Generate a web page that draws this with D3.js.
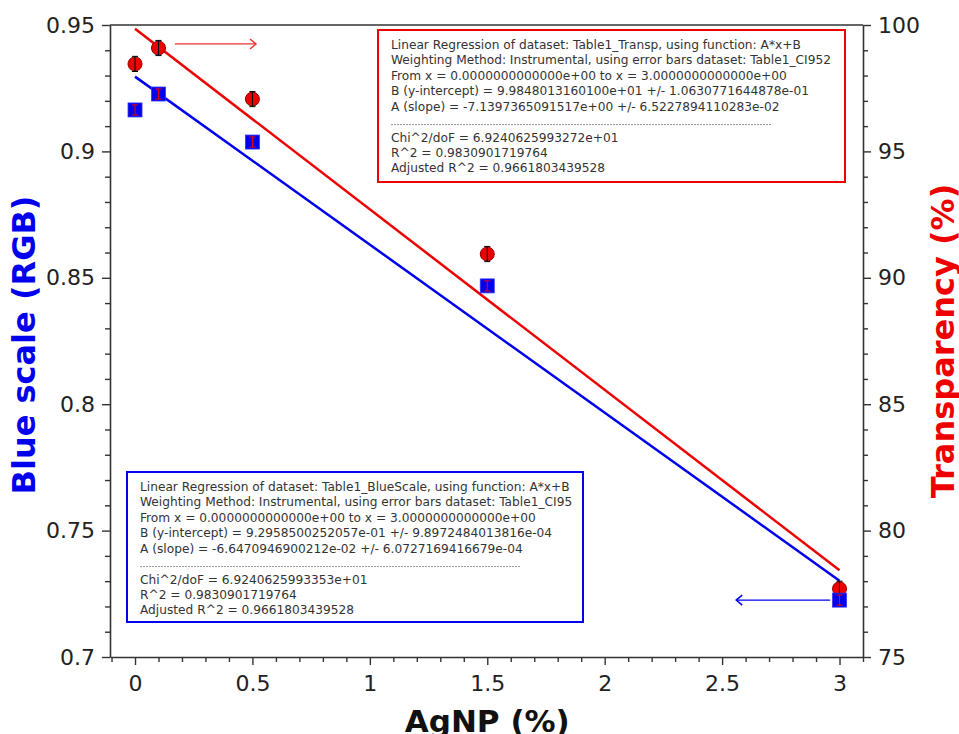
<!DOCTYPE html>
<html>
<head>
<meta charset="utf-8">
<script src="https://cdn.jsdelivr.net/npm/d3@7"></script>
<style>
  html, body { margin: 0; padding: 0; background: #fff; }
  svg { display: block; font-family: "DejaVu Sans", sans-serif; }
</style>
</head>
<body>
<svg id="chart" width="959" height="734"></svg>
<script>
// ---- data ----
const agnp = [0, 0.1, 0.5, 1.5, 3];
const blueScale = [0.9164, 0.9227, 0.9037, 0.8468, 0.7225];
const blueErr = [0.002, 0.002, 0.002, 0.002, 0.002];
const transparency = [98.46, 99.09, 97.07, 90.94, 77.7];
const transpErr = [0.3, 0.3, 0.3, 0.3, 0.3];
// regression parameters (from the fit reports)
const blueFit = { B: 0.929585002520570, A: -0.0664709469002120 };
const transpFit = { B: 99.848013160100, A: -7.1397365091517 };
const xTicks = [0, 0.5, 1, 1.5, 2, 2.5, 3];
const leftTicks = [0.7, 0.75, 0.8, 0.85, 0.9, 0.95];
const rightTicks = [75, 80, 85, 90, 95, 100];
const transpReport = [
  "Linear Regression of dataset: Table1_Transp, using function: A*x+B",
  "Weighting Method: Instrumental, using error bars dataset: Table1_CI952",
  "From x = 0.0000000000000e+00 to x = 3.0000000000000e+00",
  "B (y-intercept) = 9.9848013160100e+01 +/- 1.0630771644878e-01",
  "A (slope) = -7.1397365091517e+00 +/- 6.5227894110283e-02"
];
const transpStats = [
  "Chi^2/doF = 6.9240625993272e+01",
  "R^2 = 0.9830901719764",
  "Adjusted R^2 = 0.9661803439528"
];
const blueReport = [
  "Linear Regression of dataset: Table1_BlueScale, using function: A*x+B",
  "Weighting Method: Instrumental, using error bars dataset: Table1_CI95",
  "From x = 0.0000000000000e+00 to x = 3.0000000000000e+00",
  "B (y-intercept) = 9.2958500252057e-01 +/- 9.8972484013816e-04",
  "A (slope) = -6.6470946900212e-02 +/- 6.0727169416679e-04"
];
const blueStats = [
  "Chi^2/doF = 6.9240625993353e+01",
  "R^2 = 0.9830901719764",
  "Adjusted R^2 = 0.9661803439528"
];

// ---- layout ----
const L = 110, R = 863, T = 25, B = 657;
const svg = d3.select("#chart");
svg.append("rect").attr("width", 959).attr("height", 734).attr("fill", "#fff");

const x = d3.scaleLinear().domain([-0.1065, 3.1]).range([L, R]);
const yL = d3.scaleLinear().domain([0.7, 0.95]).range([B, T]);
const yR = d3.scaleLinear().domain([75, 100]).range([B, T]);

const axisColor = "#333";
const tickFont = 22;

// minor ticks
const xMinor = d3.range(-1, 32).map(i => i / 10).filter(v => v >= -0.1065 && v <= 3.1001 && Math.abs(v * 2 - Math.round(v * 2)) > 1e-6);
const lMinor = d3.range(70, 96).map(i => i / 100).filter(v => Math.abs(v * 20 - Math.round(v * 20)) > 1e-6);
const rMinor = d3.range(75, 101).filter(v => v % 5 !== 0);

function styleAxis(g) {
  g.select(".domain").attr("stroke", axisColor).attr("stroke-width", 1.6);
  g.selectAll(".tick line").attr("stroke", axisColor).attr("stroke-width", 1.4);
  g.selectAll(".tick text").attr("fill", "#222").style("font-size", tickFont + "px").style("font-family", "DejaVu Sans, sans-serif");
}

// bottom axis
const gx = svg.append("g").attr("transform", `translate(0,${B})`);
gx.call(d3.axisBottom(x).tickValues(xTicks).tickFormat(d3.format("")).tickSize(8).tickPadding(8).tickSizeOuter(0));
styleAxis(gx);
gx.selectAll(".tick text").attr("dy", "0.8em");
svg.append("g").attr("transform", `translate(0,${B})`)
  .call(d3.axisBottom(x).tickValues(xMinor).tickFormat("").tickSize(5).tickSizeOuter(0))
  .call(g => { g.select(".domain").remove(); g.selectAll("line").attr("stroke", axisColor).attr("stroke-width", 1.4); });

// left axis
const gl = svg.append("g").attr("transform", `translate(${L},0)`);
gl.call(d3.axisLeft(yL).tickValues(leftTicks).tickFormat(d3.format("")).tickSize(8).tickPadding(7).tickSizeOuter(0));
styleAxis(gl);
svg.append("g").attr("transform", `translate(${L},0)`)
  .call(d3.axisLeft(yL).tickValues(lMinor).tickFormat("").tickSize(5).tickSizeOuter(0))
  .call(g => { g.select(".domain").remove(); g.selectAll("line").attr("stroke", axisColor).attr("stroke-width", 1.4); });

// right axis
const gr = svg.append("g").attr("transform", `translate(${R},0)`);
gr.call(d3.axisRight(yR).tickValues(rightTicks).tickFormat(d3.format("")).tickSize(8).tickPadding(7).tickSizeOuter(0));
styleAxis(gr);
svg.append("g").attr("transform", `translate(${R},0)`)
  .call(d3.axisRight(yR).tickValues(rMinor).tickFormat("").tickSize(5).tickSizeOuter(0))
  .call(g => { g.select(".domain").remove(); g.selectAll("line").attr("stroke", axisColor).attr("stroke-width", 1.4); });

// top frame
svg.append("line").attr("x1", L).attr("x2", R).attr("y1", T).attr("y2", T)
  .attr("stroke", axisColor).attr("stroke-width", 1.6);

// axis titles
svg.append("text").attr("transform", `translate(${x(1.5)},732)`)
  .attr("text-anchor", "middle").attr("font-weight", "bold").style("font-size", "31px")
  .attr("fill", "#111").text("AgNP (%)");
svg.append("text").attr("transform", `translate(35,345) rotate(-90)`)
  .attr("text-anchor", "middle").attr("font-weight", "bold").style("font-size", "32px")
  .attr("fill", "#0000ee").text("Blue scale (RGB)");
svg.append("text").attr("transform", `translate(954,341) rotate(-90)`)
  .attr("text-anchor", "middle").attr("font-weight", "bold").style("font-size", "32px")
  .attr("fill", "#ee0000").text("Transparency (%)");

// regression lines
const fitX = [0, 3];
svg.append("path")
  .attr("d", d3.line().x(d => x(d)).y(d => yL(blueFit.B + blueFit.A * d))(fitX))
  .attr("stroke", "#0000ee").attr("stroke-width", 2.5).attr("fill", "none");
svg.append("path")
  .attr("d", d3.line().x(d => x(d)).y(d => yR(transpFit.B + transpFit.A * d))(fitX))
  .attr("stroke", "#ee0000").attr("stroke-width", 2.5).attr("fill", "none");

// red circles with black error bars
const red = agnp.map((v, i) => ({ x: v, y: transparency[i], e: transpErr[i] }));
const gRed = svg.append("g");
gRed.selectAll("circle").data(red).join("circle")
  .attr("cx", d => x(d.x)).attr("cy", d => yR(d.y)).attr("r", 7)
  .attr("fill", "#ee0000").attr("stroke", "#8b0000").attr("stroke-width", 1);
gRed.selectAll("path.err").data(red).join("path").attr("class", "err")
  .attr("d", d => {
    const cx = x(d.x), y1 = yR(d.y + d.e), y2 = yR(d.y - d.e);
    return `M${cx},${y1}V${y2}M${cx - 3},${y1}H${cx + 3}M${cx - 3},${y2}H${cx + 3}`;
  })
  .attr("stroke", "#000").attr("stroke-width", 1).attr("fill", "none");

// blue squares with red error bars
const blue = agnp.map((v, i) => ({ x: v, y: blueScale[i], e: blueErr[i] }));
const gBlue = svg.append("g");
gBlue.selectAll("rect").data(blue).join("rect")
  .attr("x", d => x(d.x) - 7).attr("y", d => yL(d.y) - 7).attr("width", 14).attr("height", 14)
  .attr("fill", "#0000ee").attr("stroke", "#3333ff").attr("stroke-width", 0.8);
gBlue.selectAll("path.err").data(blue).join("path").attr("class", "err")
  .attr("d", d => {
    const cx = x(d.x), y1 = yL(d.y + d.e), y2 = yL(d.y - d.e);
    return `M${cx},${y1}V${y2}M${cx - 3},${y1}H${cx + 3}M${cx - 3},${y2}H${cx + 3}`;
  })
  .attr("stroke", "#ee0000").attr("stroke-width", 1).attr("fill", "none");

// arrows
function arrow(x1, x2, yy, color) {
  const dir = Math.sign(x2 - x1);
  svg.append("line").attr("x1", x1).attr("x2", x2).attr("y1", yy).attr("y2", yy)
    .attr("stroke", color).attr("stroke-width", 1.3);
  svg.append("path")
    .attr("d", `M${x2 - dir * 6},${yy - 5}L${x2},${yy}L${x2 - dir * 6},${yy + 5}`)
    .attr("stroke", color).attr("stroke-width", 1.5).attr("fill", "none");
}
arrow(x(0.17), x(0.515), yR(99.25), "#ee3333");
arrow(x(2.96), x(2.56), yL(0.7225), "#0000ee");

// regression report boxes
function report(bx, by, bw, bh, color, lines, stats) {
  const g = svg.append("g");
  g.append("rect").attr("x", bx).attr("y", by).attr("width", bw).attr("height", bh)
    .attr("fill", "#fff").attr("stroke", color).attr("stroke-width", 2);
  const tx = bx + 13;
  lines.forEach((s, i) => {
    g.append("text").attr("x", tx).attr("y", by + 19 + i * 15.4)
      .style("font-size", "12.2px").attr("fill", "#333").text(s);
  });
  const dashY = by + 19 + 4 * 15.4 + 14;
  g.append("line").attr("x1", tx).attr("x2", tx + 380).attr("y1", dashY).attr("y2", dashY)
    .attr("stroke", "#777").attr("stroke-width", 0.8).attr("stroke-dasharray", "2,1");
  stats.forEach((s, i) => {
    g.append("text").attr("x", tx).attr("y", dashY + 17 + i * 15.4)
      .style("font-size", "12.2px").attr("fill", "#333").text(s);
  });
}
report(378, 30, 467, 152, "#ee0000", transpReport, transpStats);
report(127, 472, 456, 150, "#0000ee", blueReport, blueStats);
</script>
</body>
</html>
